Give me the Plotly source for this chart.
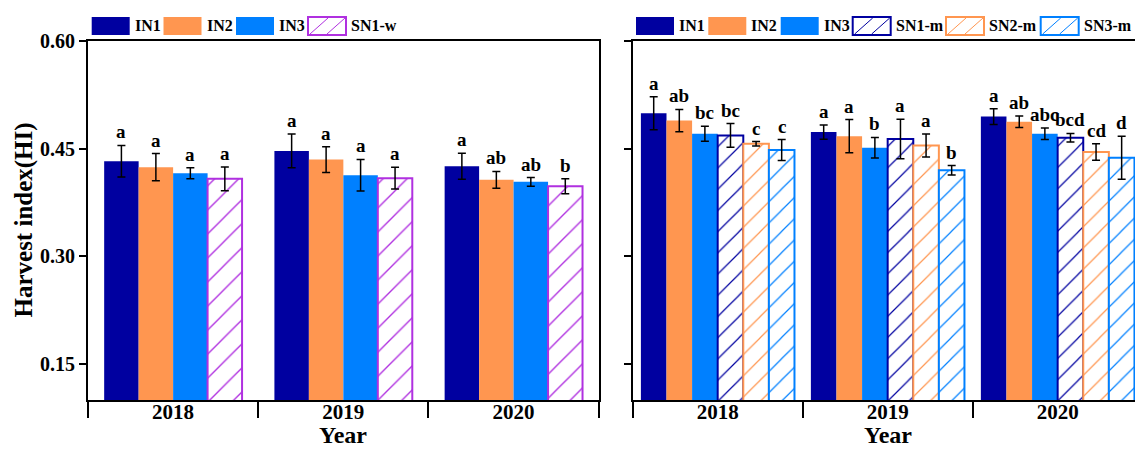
import plotly.graph_objects as go
from plotly.subplots import make_subplots

# ---------------- data ----------------
years = ["2018", "2019", "2020"]

left_series = ["IN1", "IN2", "IN3", "SN1-w"]
left_means = {
    "IN1": [0.4325, 0.4468, 0.4255],
    "IN2": [0.4242, 0.4348, 0.4066],
    "IN3": [0.4158, 0.4131, 0.4038],
    "SN1-w": [0.4080, 0.4090, 0.3978],
}
left_errs = {
    "IN1": [0.022, 0.0235, 0.018],
    "IN2": [0.019, 0.018, 0.0118],
    "IN3": [0.0075, 0.022, 0.006],
    "SN1-w": [0.0166, 0.015, 0.0104],
}
left_letters = {
    "IN1": ["a", "a", "a"],
    "IN2": ["a", "a", "ab"],
    "IN3": ["a", "a", "ab"],
    "SN1-w": ["a", "a", "b"],
}

right_series = ["IN1", "IN2", "IN3", "SN1-m", "SN2-m", "SN3-m"]
right_means = {
    "IN1": [0.4994, 0.4731, 0.4948],
    "IN2": [0.4892, 0.4675, 0.4874],
    "IN3": [0.4708, 0.4514, 0.4708],
    "SN1-m": [0.4685, 0.4634, 0.4652],
    "SN2-m": [0.4569, 0.4546, 0.4454],
    "SN3-m": [0.4482, 0.4200, 0.4375],
}
right_errs = {
    "IN1": [0.023, 0.010, 0.011],
    "IN2": [0.0155, 0.023, 0.008],
    "IN3": [0.0104, 0.0143, 0.008],
    "SN1-m": [0.0166, 0.0275, 0.006],
    "SN2-m": [0.003, 0.016, 0.0115],
    "SN3-m": [0.0145, 0.0065, 0.030],
}
right_letters = {
    "IN1": ["a", "a", "a"],
    "IN2": ["ab", "a", "ab"],
    "IN3": ["bc", "b", "abc"],
    "SN1-m": ["bc", "a", "bcd"],
    "SN2-m": ["c", "a", "cd"],
    "SN3-m": ["c", "b", "d"],
}

y_ticks = [0.15, 0.30, 0.45, 0.60]
y_range = [0.10, 0.60]

# ---------------- styles ----------------
colors = {
    "IN1": "#0000A0", "IN2": "#FF9650", "IN3": "#0080FF",
    "SN1-w": "#B030E0", "SN1-m": "#0000A0", "SN2-m": "#FF9650", "SN3-m": "#0080FF",
}
hatched = {"SN1-w", "SN1-m", "SN2-m", "SN3-m"}
FONT = "Liberation Serif"

W, H = 1135, 450
ML, MR, MT, MB = 88, 0, 41, 50
PW, PH = W - ML - MR, H - MT - MB

def px2x(px):
    return (px - ML) / PW

def px2y(py):
    return (MT + PH - py) / PH

left_gap = 0.19
right_gap = 0.0965

fig = make_subplots(rows=1, cols=2, horizontal_spacing=0.03)

def add_panel(series, means, errs, col, gap, hatch_size):
    n = len(series)
    w = (1 - gap) / n
    for k, s in enumerate(series):
        c = colors[s]
        if s in hatched:
            marker = dict(color="white", line=dict(color=c, width=2),
                          pattern=dict(shape="/", fgcolor=c, bgcolor="white",
                                       size=hatch_size, solidity=0.08, fillmode="replace"))
        else:
            marker = dict(color=c, line=dict(width=0))
        fig.add_trace(go.Bar(
            x=years, y=means[s], name=s, marker=marker, showlegend=False,
            width=w, offset=-(1 - gap) / 2 + k * w,
            error_y=dict(type="data", array=errs[s], color="black", thickness=1.5, width=4),
        ), row=1, col=col)

add_panel(left_series, left_means, left_errs, 1, left_gap, 17)
add_panel(right_series, right_means, right_errs, 2, right_gap, 15)

annotations = []

def add_letters(series, means, errs, letters, gap, xref, yref):
    n = len(series)
    w = (1 - gap) / n
    for k, s in enumerate(series):
        for i in range(len(years)):
            annotations.append(dict(
                x=i + (k - (n - 1) / 2) * w, y=means[s][i] + errs[s][i],
                xref=xref, yref=yref, text=letters[s][i], showarrow=False,
                yanchor="bottom", xanchor="center", yshift=1,
                font=dict(family=FONT, size=19, color="black", weight="bold"),
            ))

add_letters(left_series, left_means, left_errs, left_letters, left_gap, "x", "y")
add_letters(right_series, right_means, right_errs, right_letters, right_gap, "x2", "y2")

# axis titles
annotations.append(dict(x=px2x(23), y=0.5, xref="paper", yref="paper", text="Harvest index(HI)",
                        textangle=-90, showarrow=False, xanchor="center", yanchor="middle",
                        font=dict(family=FONT, size=25, color="black", weight="bold")))
for xr in ["x", "x2"]:
    annotations.append(dict(x=1, y=px2y(449.5), xref=xr, yref="paper", text="Year", showarrow=False,
                            xanchor="center", yanchor="bottom", borderpad=0,
                            font=dict(family=FONT, size=24, color="black", weight="bold")))

# custom legends
shapes = []
box_y0, box_y1 = 17, 35

def legend_item(x0px, name, text_x_px):
    c = colors[name]
    x1px = x0px + 38
    if name in hatched:
        shapes.append(dict(type="rect", xref="paper", yref="paper",
                           x0=px2x(x0px), x1=px2x(x1px), y0=px2y(box_y1), y1=px2y(box_y0),
                           fillcolor="white", line=dict(color=c, width=2)))
        for a, b in [(2, 20), (19, 37)]:
            shapes.append(dict(type="line", xref="paper", yref="paper",
                               x0=px2x(x0px + a), y0=px2y(box_y1 - 1), x1=px2x(x0px + b), y1=px2y(box_y0 + 1),
                               line=dict(color=c, width=1)))
    else:
        shapes.append(dict(type="rect", xref="paper", yref="paper",
                           x0=px2x(x0px), x1=px2x(x1px), y0=px2y(box_y1), y1=px2y(box_y0),
                           fillcolor=c, line=dict(width=0)))
    annotations.append(dict(x=px2x(text_x_px), y=px2y((box_y0 + box_y1) / 2), xref="paper", yref="paper",
                            text=name, showarrow=False, xanchor="left", yanchor="middle",
                            font=dict(family=FONT, size=16, color="black", weight="bold")))

left_legend_x = [91.7, 163.5, 236, 308]
for name, x0 in zip(left_series, left_legend_x):
    legend_item(x0, name, x0 + 41)

right_legend_x = [636, 708.3, 780.7, 852.7, 946, 1040.7]
for name, x0 in zip(right_series, right_legend_x):
    legend_item(x0, name, x0 + 41)

tickfont = dict(family=FONT, size=20, color="black", weight="bold")
xtickfont = dict(family=FONT, size=21, color="black", weight="bold")

common_x = dict(type="category", showline=True, linecolor="black", linewidth=2,
                ticks="outside", tickson="boundaries", ticklen=16, tickwidth=2, tickcolor="black",
                tickfont=xtickfont, showgrid=False, zeroline=False, ticklabelstandoff=-8)
common_y = dict(range=y_range, tickvals=y_ticks, tickformat=".2f", showline=True, linecolor="black",
                linewidth=2, ticks="outside", ticklen=7, tickwidth=2, tickcolor="black",
                tickfont=tickfont, showgrid=False, zeroline=False)

fig.update_xaxes(**common_x, mirror=True, range=[-0.5, 2.5], row=1, col=1)
fig.update_xaxes(**common_x, mirror=True, range=[-0.5, 2.455], row=1, col=2)
fig.update_yaxes(**common_y, mirror=True, row=1, col=1)
fig.update_yaxes(**common_y, mirror=False, showticklabels=False, row=1, col=2)

fig.update_layout(
    width=W, height=H, margin=dict(l=ML, r=MR, t=MT, b=MB),
    paper_bgcolor="white", plot_bgcolor="white",
    barmode="group", bargroupgap=0,
    annotations=annotations, shapes=shapes, showlegend=False,
)
fig.layout.xaxis.domain = [0, px2x(598.7)]
fig.layout.xaxis2.domain = [px2x(632.7), 1]

fig.write_html("out.html")
